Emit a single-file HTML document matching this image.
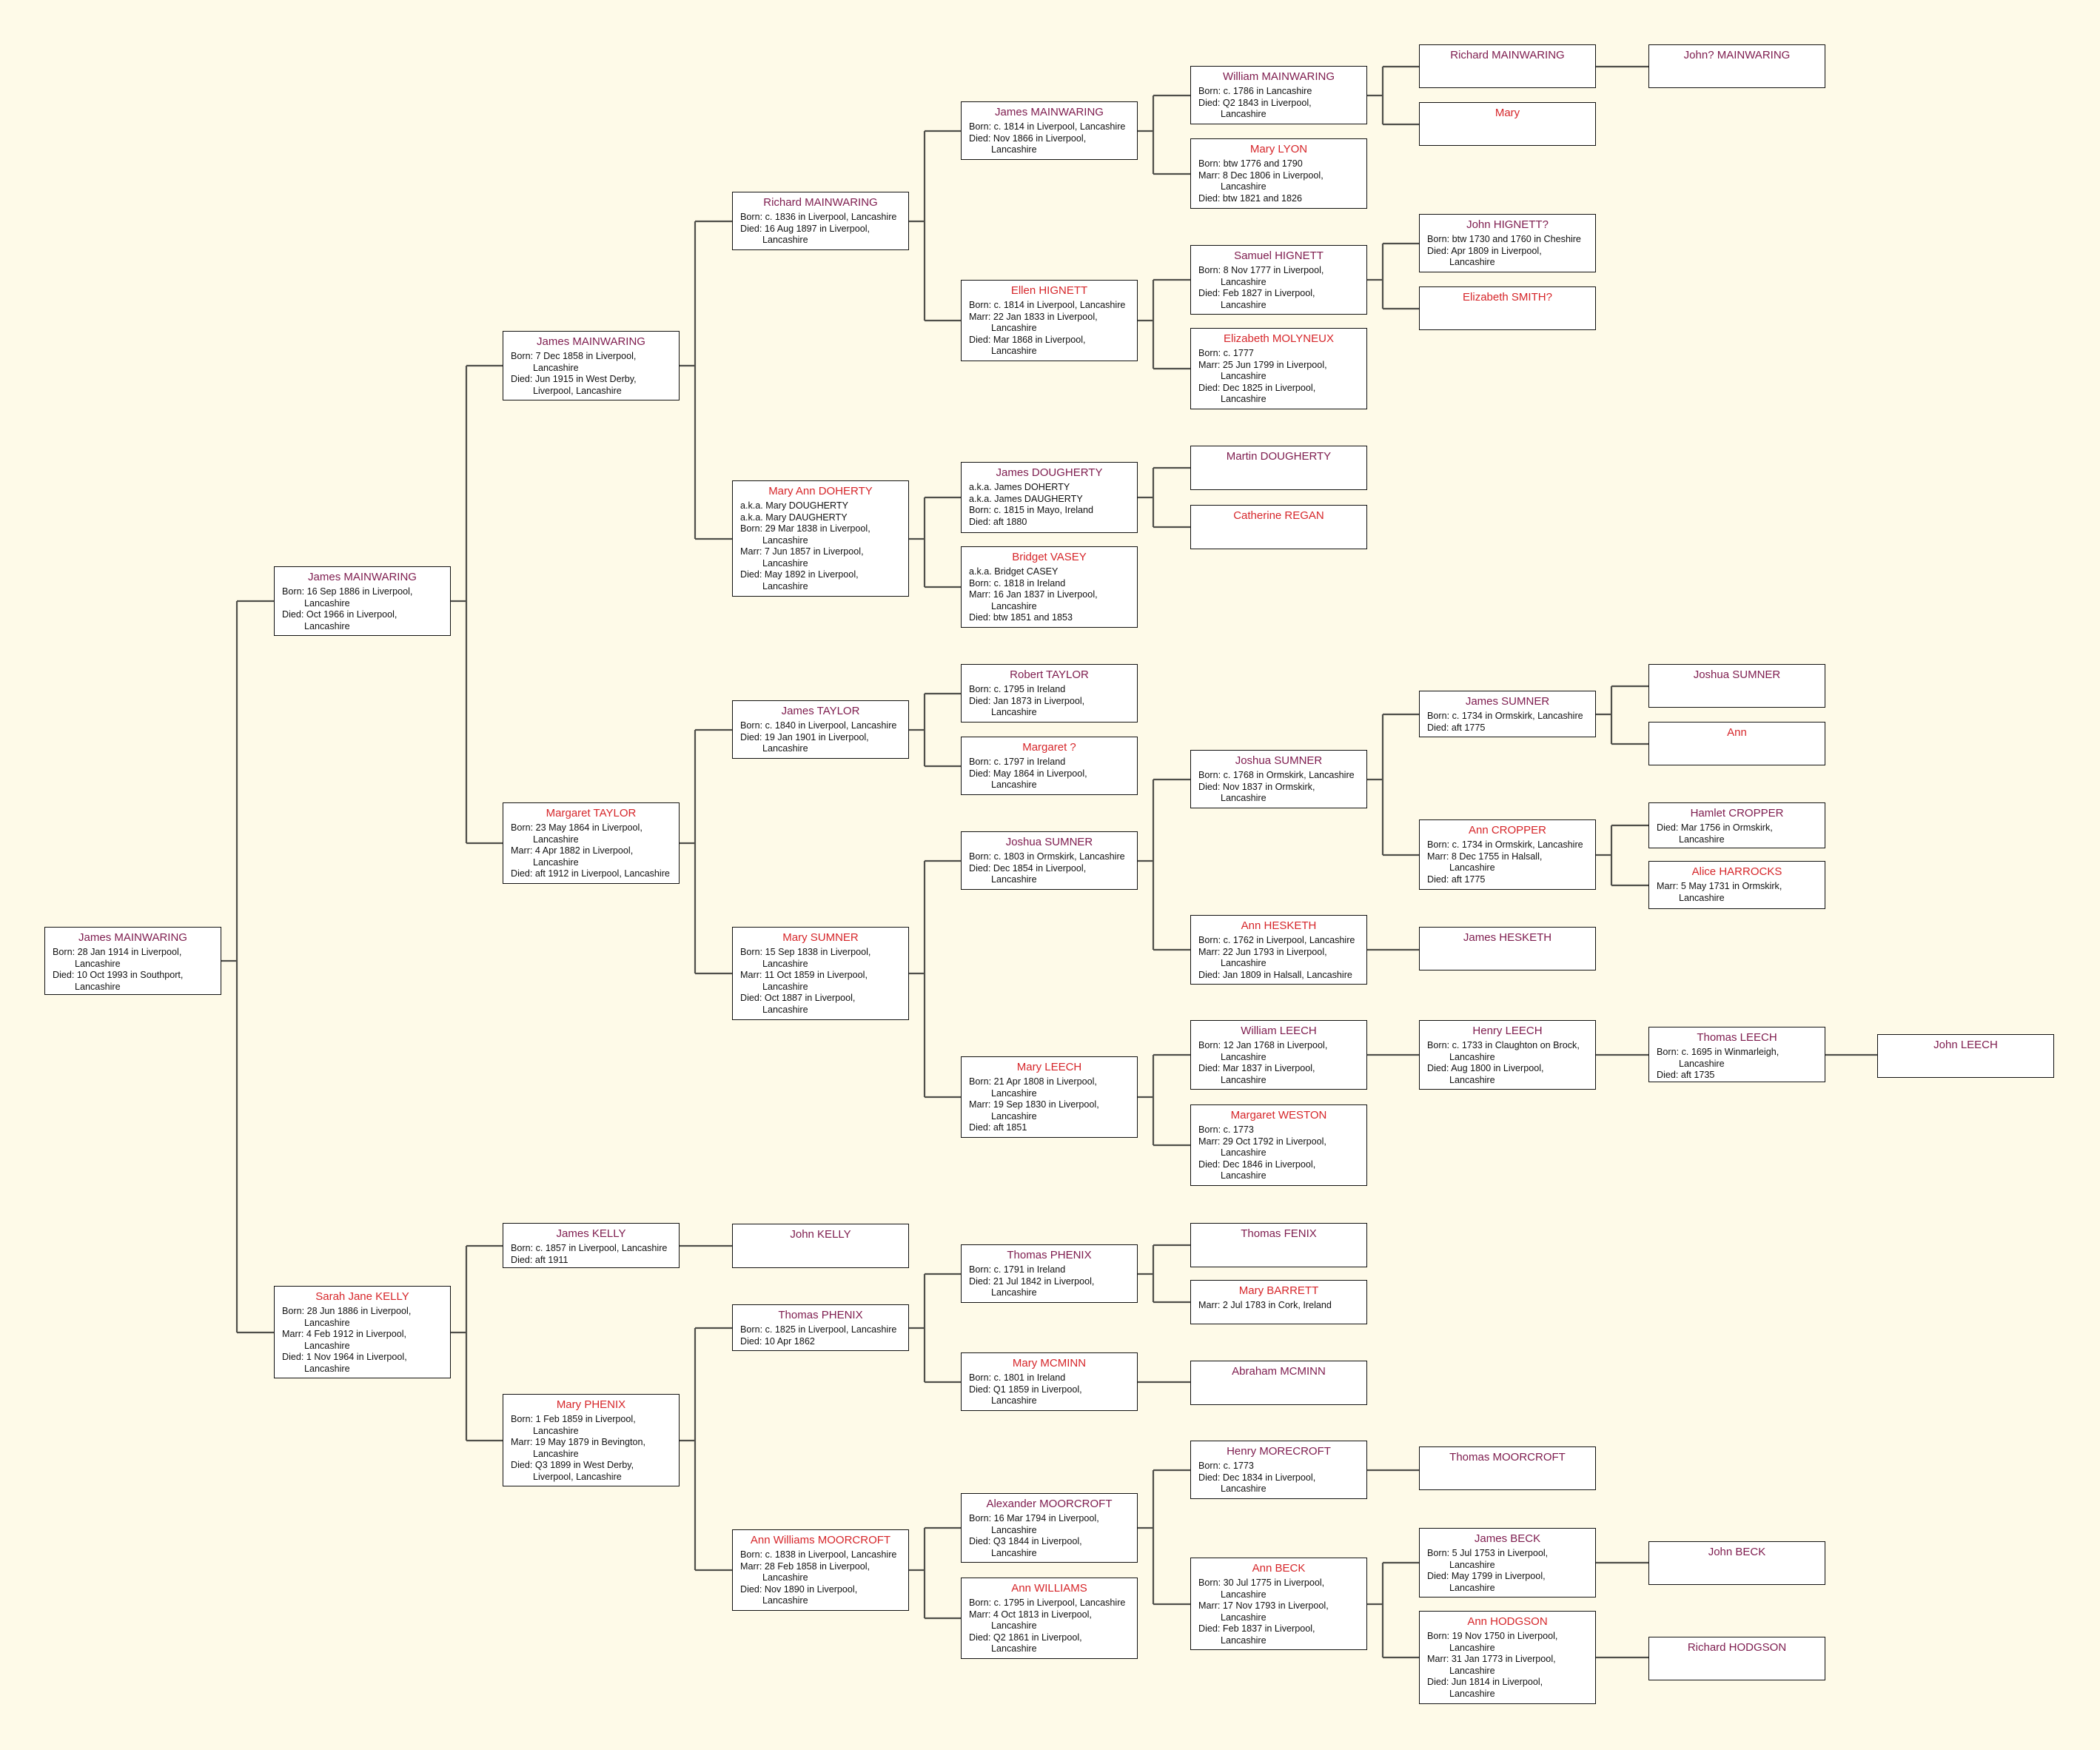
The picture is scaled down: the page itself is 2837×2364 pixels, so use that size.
<!DOCTYPE html>
<html><head><meta charset="utf-8">
<style>
html,body{margin:0;padding:0;}
body{width:2837px;height:2364px;background:#fefae8;position:relative;overflow:hidden;font-family:"Liberation Sans",Arial,sans-serif;}
.b{position:absolute;width:239px;box-sizing:border-box;border:1px solid #111;background:#fff;}
.b p{margin:0;font-size:12.6px;line-height:15.5px;color:#111;padding-left:10px;white-space:nowrap;}
.b p.n{font-size:15px;line-height:18px;text-align:center;padding:5px 0 3px 0;color:#7e1c4e;}
.f p.n{color:#d6262a;}
.b p.c{padding-left:40px;}
.c0{left:60px}.c1{left:370px}.c2{left:679px}.c3{left:989px}.c4{left:1298px}.c5{left:1608px}.c6{left:1917px}.c7{left:2227px}.c8{left:2536px}
svg{position:absolute;left:0;top:0;}
</style></head><body>
<svg id="L" width="2837" height="2364"></svg>

<div class="b c0" id="a" style="top:1252px;height:92px"><p class="n">James MAINWARING</p><p>Born: 28 Jan 1914 in Liverpool,</p><p class="c">Lancashire</p><p>Died: 10 Oct 1993 in Southport,</p><p class="c">Lancashire</p></div>

<div class="b c1" id="b1" style="top:765px;height:94px"><p class="n">James MAINWARING</p><p>Born: 16 Sep 1886 in Liverpool,</p><p class="c">Lancashire</p><p>Died: Oct 1966 in Liverpool,</p><p class="c">Lancashire</p></div>
<div class="b c1 f" id="b2" style="top:1737px;height:125px"><p class="n">Sarah Jane KELLY</p><p>Born: 28 Jun 1886 in Liverpool,</p><p class="c">Lancashire</p><p>Marr: 4 Feb 1912 in Liverpool,</p><p class="c">Lancashire</p><p>Died: 1 Nov 1964 in Liverpool,</p><p class="c">Lancashire</p></div>

<div class="b c2" id="c1" style="top:447px;height:94px"><p class="n">James MAINWARING</p><p>Born: 7 Dec 1858 in Liverpool,</p><p class="c">Lancashire</p><p>Died: Jun 1915 in West Derby,</p><p class="c">Liverpool, Lancashire</p></div>
<div class="b c2 f" id="c2" style="top:1084px;height:110px"><p class="n">Margaret TAYLOR</p><p>Born: 23 May 1864 in Liverpool,</p><p class="c">Lancashire</p><p>Marr: 4 Apr 1882 in Liverpool,</p><p class="c">Lancashire</p><p>Died: aft 1912 in Liverpool, Lancashire</p></div>
<div class="b c2" id="c3" style="top:1652px;height:61px"><p class="n">James KELLY</p><p>Born: c. 1857 in Liverpool, Lancashire</p><p>Died: aft 1911</p></div>
<div class="b c2 f" id="c4" style="top:1883px;height:125px"><p class="n">Mary PHENIX</p><p>Born: 1 Feb 1859 in Liverpool,</p><p class="c">Lancashire</p><p>Marr: 19 May 1879 in Bevington,</p><p class="c">Lancashire</p><p>Died: Q3 1899 in West Derby,</p><p class="c">Liverpool, Lancashire</p></div>

<div class="b c3" id="d1" style="top:259px;height:79px"><p class="n">Richard MAINWARING</p><p>Born: c. 1836 in Liverpool, Lancashire</p><p>Died: 16 Aug 1897 in Liverpool,</p><p class="c">Lancashire</p></div>
<div class="b c3 f" id="d2" style="top:649px;height:157px"><p class="n">Mary Ann DOHERTY</p><p>a.k.a. Mary DOUGHERTY</p><p>a.k.a. Mary DAUGHERTY</p><p>Born: 29 Mar 1838 in Liverpool,</p><p class="c">Lancashire</p><p>Marr: 7 Jun 1857 in Liverpool,</p><p class="c">Lancashire</p><p>Died: May 1892 in Liverpool,</p><p class="c">Lancashire</p></div>
<div class="b c3" id="d3" style="top:946px;height:79px"><p class="n">James TAYLOR</p><p>Born: c. 1840 in Liverpool, Lancashire</p><p>Died: 19 Jan 1901 in Liverpool,</p><p class="c">Lancashire</p></div>
<div class="b c3 f" id="d4" style="top:1252px;height:126px"><p class="n">Mary SUMNER</p><p>Born: 15 Sep 1838 in Liverpool,</p><p class="c">Lancashire</p><p>Marr: 11 Oct 1859 in Liverpool,</p><p class="c">Lancashire</p><p>Died: Oct 1887 in Liverpool,</p><p class="c">Lancashire</p></div>
<div class="b c3" id="d5" style="top:1653px;height:60px"><p class="n">John KELLY</p></div>
<div class="b c3" id="d7" style="top:1762px;height:63px"><p class="n">Thomas PHENIX</p><p>Born: c. 1825 in Liverpool, Lancashire</p><p>Died: 10 Apr 1862</p></div>
<div class="b c3 f" id="d8" style="top:2066px;height:110px"><p class="n">Ann Williams MOORCROFT</p><p>Born: c. 1838 in Liverpool, Lancashire</p><p>Marr: 28 Feb 1858 in Liverpool,</p><p class="c">Lancashire</p><p>Died: Nov 1890 in Liverpool,</p><p class="c">Lancashire</p></div>

<div class="b c4" id="e1" style="top:137px;height:79px"><p class="n">James MAINWARING</p><p>Born: c. 1814 in Liverpool, Lancashire</p><p>Died: Nov 1866 in Liverpool,</p><p class="c">Lancashire</p></div>
<div class="b c4 f" id="e2" style="top:378px;height:110px"><p class="n">Ellen HIGNETT</p><p>Born: c. 1814 in Liverpool, Lancashire</p><p>Marr: 22 Jan 1833 in Liverpool,</p><p class="c">Lancashire</p><p>Died: Mar 1868 in Liverpool,</p><p class="c">Lancashire</p></div>
<div class="b c4" id="e3" style="top:624px;height:96px"><p class="n">James DOUGHERTY</p><p>a.k.a. James DOHERTY</p><p>a.k.a. James DAUGHERTY</p><p>Born: c. 1815 in Mayo, Ireland</p><p>Died: aft 1880</p></div>
<div class="b c4 f" id="e4" style="top:738px;height:110px"><p class="n">Bridget VASEY</p><p>a.k.a. Bridget CASEY</p><p>Born: c. 1818 in Ireland</p><p>Marr: 16 Jan 1837 in Liverpool,</p><p class="c">Lancashire</p><p>Died: btw 1851 and 1853</p></div>
<div class="b c4" id="e5" style="top:897px;height:79px"><p class="n">Robert TAYLOR</p><p>Born: c. 1795 in Ireland</p><p>Died: Jan 1873 in Liverpool,</p><p class="c">Lancashire</p></div>
<div class="b c4 f" id="e6" style="top:995px;height:79px"><p class="n">Margaret ?</p><p>Born: c. 1797 in Ireland</p><p>Died: May 1864 in Liverpool,</p><p class="c">Lancashire</p></div>
<div class="b c4" id="e7" style="top:1123px;height:79px"><p class="n">Joshua SUMNER</p><p>Born: c. 1803 in Ormskirk, Lancashire</p><p>Died: Dec 1854 in Liverpool,</p><p class="c">Lancashire</p></div>
<div class="b c4 f" id="e8" style="top:1427px;height:110px"><p class="n">Mary LEECH</p><p>Born: 21 Apr 1808 in Liverpool,</p><p class="c">Lancashire</p><p>Marr: 19 Sep 1830 in Liverpool,</p><p class="c">Lancashire</p><p>Died: aft 1851</p></div>
<div class="b c4" id="e13" style="top:1681px;height:79px"><p class="n">Thomas PHENIX</p><p>Born: c. 1791 in Ireland</p><p>Died: 21 Jul 1842 in Liverpool,</p><p class="c">Lancashire</p></div>
<div class="b c4 f" id="e14" style="top:1827px;height:79px"><p class="n">Mary MCMINN</p><p>Born: c. 1801 in Ireland</p><p>Died: Q1 1859 in Liverpool,</p><p class="c">Lancashire</p></div>
<div class="b c4" id="e15" style="top:2017px;height:94px"><p class="n">Alexander MOORCROFT</p><p>Born: 16 Mar 1794 in Liverpool,</p><p class="c">Lancashire</p><p>Died: Q3 1844 in Liverpool,</p><p class="c">Lancashire</p></div>
<div class="b c4 f" id="e16" style="top:2131px;height:110px"><p class="n">Ann WILLIAMS</p><p>Born: c. 1795 in Liverpool, Lancashire</p><p>Marr: 4 Oct 1813 in Liverpool,</p><p class="c">Lancashire</p><p>Died: Q2 1861 in Liverpool,</p><p class="c">Lancashire</p></div>

<div class="b c5" id="f1" style="top:89px;height:79px"><p class="n">William MAINWARING</p><p>Born: c. 1786 in Lancashire</p><p>Died: Q2 1843 in Liverpool,</p><p class="c">Lancashire</p></div>
<div class="b c5 f" id="f2" style="top:187px;height:95px"><p class="n">Mary LYON</p><p>Born: btw 1776 and 1790</p><p>Marr: 8 Dec 1806 in Liverpool,</p><p class="c">Lancashire</p><p>Died: btw 1821 and 1826</p></div>
<div class="b c5" id="f3" style="top:331px;height:94px"><p class="n">Samuel HIGNETT</p><p>Born: 8 Nov 1777 in Liverpool,</p><p class="c">Lancashire</p><p>Died: Feb 1827 in Liverpool,</p><p class="c">Lancashire</p></div>
<div class="b c5 f" id="f4" style="top:443px;height:110px"><p class="n">Elizabeth MOLYNEUX</p><p>Born: c. 1777</p><p>Marr: 25 Jun 1799 in Liverpool,</p><p class="c">Lancashire</p><p>Died: Dec 1825 in Liverpool,</p><p class="c">Lancashire</p></div>
<div class="b c5" id="f5" style="top:602px;height:60px"><p class="n">Martin DOUGHERTY</p></div>
<div class="b c5 f" id="f6" style="top:682px;height:60px"><p class="n">Catherine REGAN</p></div>
<div class="b c5" id="f13" style="top:1013px;height:79px"><p class="n">Joshua SUMNER</p><p>Born: c. 1768 in Ormskirk, Lancashire</p><p>Died: Nov 1837 in Ormskirk,</p><p class="c">Lancashire</p></div>
<div class="b c5 f" id="f14" style="top:1236px;height:94px"><p class="n">Ann HESKETH</p><p>Born: c. 1762 in Liverpool, Lancashire</p><p>Marr: 22 Jun 1793 in Liverpool,</p><p class="c">Lancashire</p><p>Died: Jan 1809 in Halsall, Lancashire</p></div>
<div class="b c5" id="f15" style="top:1378px;height:94px"><p class="n">William LEECH</p><p>Born: 12 Jan 1768 in Liverpool,</p><p class="c">Lancashire</p><p>Died: Mar 1837 in Liverpool,</p><p class="c">Lancashire</p></div>
<div class="b c5 f" id="f16" style="top:1492px;height:110px"><p class="n">Margaret WESTON</p><p>Born: c. 1773</p><p>Marr: 29 Oct 1792 in Liverpool,</p><p class="c">Lancashire</p><p>Died: Dec 1846 in Liverpool,</p><p class="c">Lancashire</p></div>
<div class="b c5" id="f25" style="top:1652px;height:60px"><p class="n">Thomas FENIX</p></div>
<div class="b c5 f" id="f26" style="top:1729px;height:60px"><p class="n">Mary BARRETT</p><p>Marr: 2 Jul 1783 in Cork, Ireland</p></div>
<div class="b c5" id="f27" style="top:1838px;height:60px"><p class="n">Abraham MCMINN</p></div>
<div class="b c5" id="f29" style="top:1946px;height:79px"><p class="n">Henry MORECROFT</p><p>Born: c. 1773</p><p>Died: Dec 1834 in Liverpool,</p><p class="c">Lancashire</p></div>
<div class="b c5 f" id="f30" style="top:2104px;height:125px"><p class="n">Ann BECK</p><p>Born: 30 Jul 1775 in Liverpool,</p><p class="c">Lancashire</p><p>Marr: 17 Nov 1793 in Liverpool,</p><p class="c">Lancashire</p><p>Died: Feb 1837 in Liverpool,</p><p class="c">Lancashire</p></div>

<div class="b c6" id="g1" style="top:60px;height:59px"><p class="n">Richard MAINWARING</p></div>
<div class="b c6 f" id="g2" style="top:138px;height:59px"><p class="n">Mary</p></div>
<div class="b c6" id="g5" style="top:289px;height:79px"><p class="n">John HIGNETT?</p><p>Born: btw 1730 and 1760 in Cheshire</p><p>Died: Apr 1809 in Liverpool,</p><p class="c">Lancashire</p></div>
<div class="b c6 f" id="g6" style="top:387px;height:59px"><p class="n">Elizabeth SMITH?</p></div>
<div class="b c6" id="g25" style="top:933px;height:63px"><p class="n">James SUMNER</p><p>Born: c. 1734 in Ormskirk, Lancashire</p><p>Died: aft 1775</p></div>
<div class="b c6 f" id="g26" style="top:1107px;height:95px"><p class="n">Ann CROPPER</p><p>Born: c. 1734 in Ormskirk, Lancashire</p><p>Marr: 8 Dec 1755 in Halsall,</p><p class="c">Lancashire</p><p>Died: aft 1775</p></div>
<div class="b c6" id="g27" style="top:1252px;height:59px"><p class="n">James HESKETH</p></div>
<div class="b c6" id="g29" style="top:1378px;height:94px"><p class="n">Henry LEECH</p><p>Born: c. 1733 in Claughton on Brock,</p><p class="c">Lancashire</p><p>Died: Aug 1800 in Liverpool,</p><p class="c">Lancashire</p></div>
<div class="b c6" id="g57" style="top:1954px;height:59px"><p class="n">Thomas MOORCROFT</p></div>
<div class="b c6" id="g59" style="top:2064px;height:94px"><p class="n">James BECK</p><p>Born: 5 Jul 1753 in Liverpool,</p><p class="c">Lancashire</p><p>Died: May 1799 in Liverpool,</p><p class="c">Lancashire</p></div>
<div class="b c6 f" id="g60" style="top:2176px;height:126px"><p class="n">Ann HODGSON</p><p>Born: 19 Nov 1750 in Liverpool,</p><p class="c">Lancashire</p><p>Marr: 31 Jan 1773 in Liverpool,</p><p class="c">Lancashire</p><p>Died: Jun 1814 in Liverpool,</p><p class="c">Lancashire</p></div>

<div class="b c7" id="h1" style="top:60px;height:59px"><p class="n">John? MAINWARING</p></div>
<div class="b c7" id="h49" style="top:897px;height:59px"><p class="n">Joshua SUMNER</p></div>
<div class="b c7 f" id="h50" style="top:975px;height:59px"><p class="n">Ann</p></div>
<div class="b c7" id="h51" style="top:1084px;height:62px"><p class="n">Hamlet CROPPER</p><p>Died: Mar 1756 in Ormskirk,</p><p class="c">Lancashire</p></div>
<div class="b c7 f" id="h52" style="top:1163px;height:65px"><p class="n">Alice HARROCKS</p><p>Marr: 5 May 1731 in Ormskirk,</p><p class="c">Lancashire</p></div>
<div class="b c7" id="h57" style="top:1387px;height:75px"><p class="n">Thomas LEECH</p><p>Born: c. 1695 in Winmarleigh,</p><p class="c">Lancashire</p><p>Died: aft 1735</p></div>
<div class="b c7" id="h117" style="top:2082px;height:59px"><p class="n">John BECK</p></div>
<div class="b c7" id="h119" style="top:2211px;height:59px"><p class="n">Richard HODGSON</p></div>

<div class="b c8" id="i1" style="top:1397px;height:59px"><p class="n">John LEECH</p></div>

<script>
(function(){
var rel=[["a","b1","b2"],["b1","c1","c2"],["b2","c3","c4"],["c1","d1","d2"],["c2","d3","d4"],["c3","d5"],["c4","d7","d8"],
["d1","e1","e2"],["d2","e3","e4"],["d3","e5","e6"],["d4","e7","e8"],["d7","e13","e14"],["d8","e15","e16"],
["e1","f1","f2"],["e2","f3","f4"],["e3","f5","f6"],["e7","f13","f14"],["e8","f15","f16"],["e13","f25","f26"],["e14","f27"],["e15","f29","f30"],
["f1","g1","g2"],["f3","g5","g6"],["f13","g25","g26"],["f14","g27"],["f15","g29"],["f29","g57"],["f30","g59","g60"],
["g1","h1"],["g25","h49","h50"],["g26","h51","h52"],["g29","h57"],["g59","h117"],["g60","h119"],["h57","i1"]];
var s=document.getElementById("L"),d="";
function g(id){var e=document.getElementById(id);return {l:e.offsetLeft,r:e.offsetLeft+e.offsetWidth,m:Math.round(e.offsetTop+e.offsetHeight/2)};}
rel.forEach(function(r){var p=g(r[0]);var vx=p.r+21;
 if(r.length==2){var c=g(r[1]);
  if(Math.abs(c.m-p.m)<3){d+="M"+p.r+" "+p.m+"H"+c.l;}
  else{d+="M"+p.r+" "+p.m+"H"+vx+"V"+c.m+"H"+c.l;}
 }else{var c1=g(r[1]),c2=g(r[2]);
  d+="M"+p.r+" "+p.m+"H"+vx+"M"+vx+" "+c1.m+"V"+c2.m+"M"+vx+" "+c1.m+"H"+c1.l+"M"+vx+" "+c2.m+"H"+c2.l;}
});
var pth=document.createElementNS("http://www.w3.org/2000/svg","path");
pth.setAttribute("d",d);pth.setAttribute("stroke","#4f4f4a");pth.setAttribute("stroke-width","2.2");pth.setAttribute("fill","none");
s.appendChild(pth);
})();
</script>
</body></html>
